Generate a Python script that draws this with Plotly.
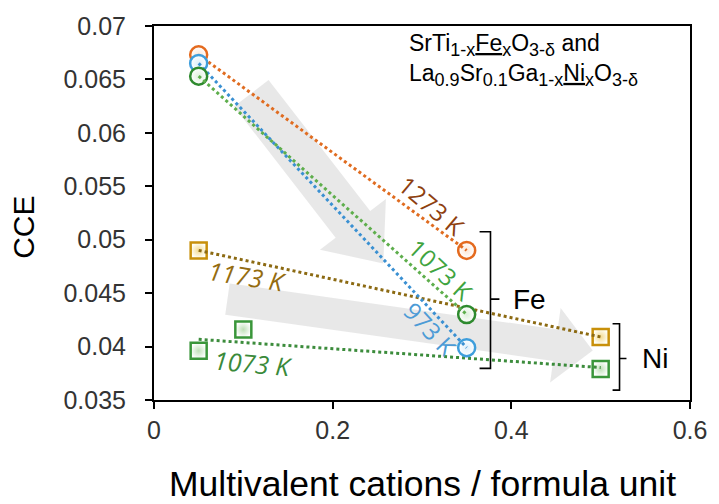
import numpy as np
import plotly.graph_objects as go

# ---------------- data ----------------
fe_x = [0.05, 0.35]
fe_1273 = [0.0673, 0.0490]
fe_973 = [0.0665, 0.0399]
fe_1073 = [0.0653, 0.0430]

ni_1173_x = [0.05, 0.5]
ni_1173 = [0.0490, 0.0409]
ni_1073_x = [0.05, 0.1, 0.5]
ni_1073 = [0.0396, 0.0416, 0.0379]

x_ticks = [0, 0.2, 0.4, 0.6]
x_ticktext = ["0", "0.2", "0.4", "0.6"]
y_ticks = [0.035, 0.04, 0.045, 0.05, 0.055, 0.06, 0.065, 0.07]
y_ticktext = ["0.035", "0.04", "0.045", "0.05", "0.055", "0.06", "0.065", "0.07"]

# ---------------- geometry helpers (pixel -> data) ----------------
W, H = 719, 504
L, R, T, B = 154, 25, 22, 104
X0, X1 = 0.0, 0.6
Y0, Y1 = 0.035, 0.07
pw, ph = W - L - R, H - T - B


def px2x(px):
    return X0 + (px - L) / pw * (X1 - X0)


def py2y(py):
    return Y1 - (py - T) / ph * (Y1 - Y0)


def arrow_path(tail, tip, half_w, head_half_w, head_len):
    tx, ty = tail
    hx, hy = tip
    dx, dy = hx - tx, hy - ty
    ln = (dx * dx + dy * dy) ** 0.5
    ux, uy = dx / ln, dy / ln
    nx, ny = -uy, ux
    bx, by = hx - ux * head_len, hy - uy * head_len
    pts = [
        (tx + nx * half_w, ty + ny * half_w),
        (bx + nx * half_w, by + ny * half_w),
        (bx + nx * head_half_w, by + ny * head_half_w),
        (hx, hy),
        (bx - nx * head_half_w, by - ny * head_half_w),
        (bx - nx * half_w, by - ny * half_w),
        (tx - nx * half_w, ty - ny * half_w),
    ]
    s = "M " + " L ".join(f"{px2x(a):.5f},{py2y(b):.6f}" for a, b in pts) + " Z"
    return s


fig = go.Figure()


def add_series(xs, ys, symbol, size, edge, fill, grad, line_color):
    fig.add_trace(go.Scatter(
        x=xs, y=ys, mode="markers",
        marker=dict(symbol=symbol, size=size, color=fill,
                    gradient=dict(type="radial", color=grad),
                    line=dict(color=edge, width=2.5)),
        showlegend=False, hoverinfo="skip"))
    # linear trendline (Excel-style) through the series
    k, b = np.polyfit(xs, ys, 1)
    xl = np.array([min(xs), max(xs)])
    fig.add_trace(go.Scatter(
        x=xl, y=k * xl + b, mode="lines",
        line=dict(color=line_color, width=3, dash="dot"),
        showlegend=False, hoverinfo="skip"))


add_series(ni_1173_x, ni_1173, "square", 16, "#C8900A", "#FFFFF8", "#F3D98E", "#8C6A12")
add_series(ni_1073_x, ni_1073, "square", 16, "#3A963A", "#FFFFFF", "#BFE0B8", "#3C8C3C")
add_series(fe_x, fe_1273, "circle", 17, "#E46A1E", "#FFFFFF", "#FCE6D6", "#E06C20")
add_series(fe_x, fe_973, "circle", 17, "#3E9EDC", "#FFFFFF", "#DCEEFA", "#3A90D2")
add_series(fe_x, fe_1073, "circle", 17, "#2E8A2E", "#FFFFFF", "#DDF0DA", "#5EAE4C")

shapes = []
# big grey guide arrows
shapes.append(dict(type="path", xref="x", yref="y", layer="below",
                   path=arrow_path((252, 90), (385, 262), 22, 42, 50),
                   fillcolor="#E4E4E4", line=dict(width=0), opacity=0.85))
shapes.append(dict(type="path", xref="x", yref="y", layer="below",
                   path=arrow_path((228, 298), (596, 350), 16, 38, 38),
                   fillcolor="#E4E4E4", line=dict(width=0), opacity=0.85))

# brackets
def bracket(xl, xv, xn, yt, yb, ym):
    return dict(type="path", xref="x", yref="y",
                path=(f"M {px2x(xl)},{py2y(yt)} L {px2x(xv)},{py2y(yt)} "
                      f"L {px2x(xv)},{py2y(yb)} L {px2x(xl)},{py2y(yb)} "
                      f"M {px2x(xv)},{py2y(ym)} L {px2x(xn)},{py2y(ym)}"),
                line=dict(color="black", width=1.6))

shapes.append(bracket(482, 493, 502, 230, 368, 298))
shapes.append(bracket(616, 623, 630, 323, 390, 358))

annotations = []


def ann_px(text, cx, cy, size, color, angle=0, family="Open Sans", italic=False):
    t = f"<i>{text}</i>" if italic else text
    annotations.append(dict(text=t, x=px2x(cx), y=py2y(cy), xref="x", yref="y",
                            showarrow=False, textangle=angle,
                            font=dict(size=size, color=color, family=family),
                            xanchor="center", yanchor="middle"))


ann_px("1273 K", 434, 203, 24, "#8E3F10", 40)
ann_px("1073 K", 443, 268, 24, "#3FA43F", 43)
ann_px("973 K", 432, 328, 24, "#4C9BD6", 47)
ann_px("1173 K", 248, 275, 25, "#946C10", 9, italic=True)
ann_px("1073 K", 254, 363, 25, "#3A8A3A", 5, italic=True)
ann_px("Fe", 532, 298, 28, "black", 0, family="Arial")
ann_px("Ni", 659, 358, 28, "black", 0, family="Arial")


def sb(t):
    return f"<sub><span style='font-size:18px'>{t}</span></sub>"


annotations.append(dict(
    text=(f"SrTi{sb('1-x')}<u>Fe</u>{sb('x')}O{sb('3-δ')} and<br>"
          f"La{sb('0.9')}Sr{sb('0.1')}Ga{sb('1-x')}<u>Ni</u>{sb('x')}O{sb('3-δ')}"),
    x=(409 - L) / pw, y=(400 - 24) / ph, xref="paper", yref="paper",
    xanchor="left", yanchor="top", align="left", showarrow=False,
    font=dict(size=23, color="black", family="Arial")))

annotations.append(dict(text="CCE", x=(23 - L) / pw, y=(400 - 225) / ph,
                        xref="paper", yref="paper", showarrow=False, textangle=-90,
                        font=dict(size=30, color="black", family="Arial"),
                        xanchor="center", yanchor="middle"))
annotations.append(dict(text="Multivalent cations / formula unit",
                        x=(424 - L) / pw, y=(400 - 485) / ph,
                        xref="paper", yref="paper", showarrow=False,
                        font=dict(size=35.5, color="black", family="Arial"),
                        xanchor="center", yanchor="middle"))

axis_common = dict(showgrid=False, zeroline=False, showline=True, linecolor="black",
                   linewidth=2, mirror=True, ticks="outside", ticklen=7, tickwidth=2,
                   tickcolor="black", tickfont=dict(size=25, color="#333333", family="Arial"))

fig.update_layout(
    width=W, height=H,
    margin=dict(l=L, r=R, t=T, b=B),
    paper_bgcolor="white", plot_bgcolor="white",
    xaxis=dict(range=[X0, X1], tickvals=x_ticks, ticktext=x_ticktext,
               ticklabelstandoff=0, **axis_common),
    yaxis=dict(range=[Y0, Y1], tickvals=y_ticks, ticktext=y_ticktext,
               ticklabelstandoff=14, **axis_common),
    shapes=shapes, annotations=annotations,
    showlegend=False,
)

fig.write_html("out.html", config={"displayModeBar": False},
               post_script="document.body.style.margin='0px';document.body.style.overflow='hidden';")
